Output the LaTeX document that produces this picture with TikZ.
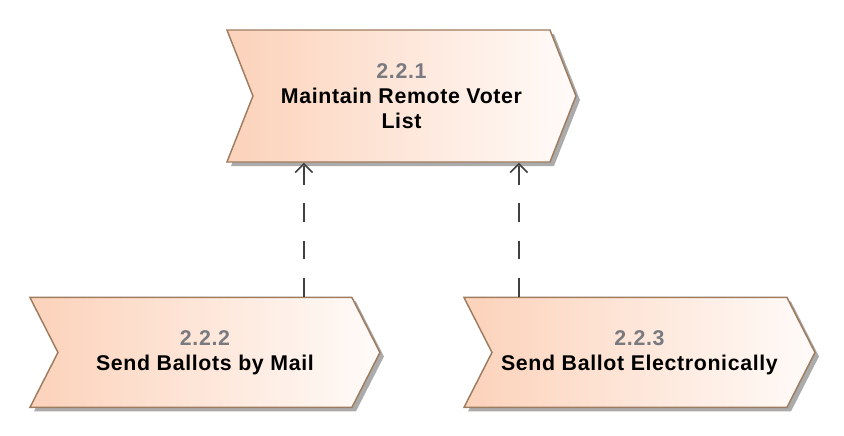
\documentclass[tikz,border=0pt]{standalone}
\usepackage{fontspec}
\setmainfont{Liberation Sans}[LetterSpace=3]
\usetikzlibrary{positioning, arrows.meta, shapes.symbols, shadows}
\definecolor{actleft}{RGB}{252,210,186}
\definecolor{actright}{RGB}{255,251,249}
\definecolor{actborder}{RGB}{158,124,96}
\definecolor{numgray}{RGB}{120,122,128}
\definecolor{depgray}{RGB}{64,64,64}

\begin{document}
\begin{tikzpicture}[
  activity/.style={signal, signal to=east, signal from=west,
                   draw=actborder, line width=1.1pt,
                   left color=actleft, right color=actright,
                   drop shadow={shadow xshift=3pt, shadow yshift=-3pt,
                                fill=black!33, opacity=1},
                   align=center, font=\bfseries\fontsize{16pt}{18.5pt}\selectfont,
                   inner sep=0pt},
  dep/.style={-{Straight Barb[length=6.5pt, width=13pt]}, line width=1.2pt,
              color=depgray, dash pattern=on 14pt off 14pt}
]
  \useasboundingbox (0,0) rectangle (633pt,-327pt);

  \node[activity, minimum width=261.75pt, minimum height=99pt,
        signal pointer angle=137] (maint) at (301.1pt,-72pt)
        {{\color{numgray}2.2.1}\\Maintain Remote Voter\\List};
  \node[activity, minimum width=262.5pt, minimum height=82.5pt,
        signal pointer angle=126,
        below=100.5pt of maint, xshift=-147.4pt] (mail)
        {{\color{numgray}2.2.2}\\Send Ballots by Mail};
  \node[activity, minimum width=263.25pt, minimum height=82.5pt,
        signal pointer angle=126,
        below=100.5pt of maint, xshift=178.5pt] (elec)
        {{\color{numgray}2.2.3}\\Send Ballot Electronically};

  \draw[dep] ([xshift=74.25pt]mail.north) -- ([xshift=74.25pt]mail.north |- maint.south);
  \draw[dep] ([xshift=-90.4pt]elec.north) -- ([xshift=-90.4pt]elec.north |- maint.south);
\end{tikzpicture}
\end{document}
